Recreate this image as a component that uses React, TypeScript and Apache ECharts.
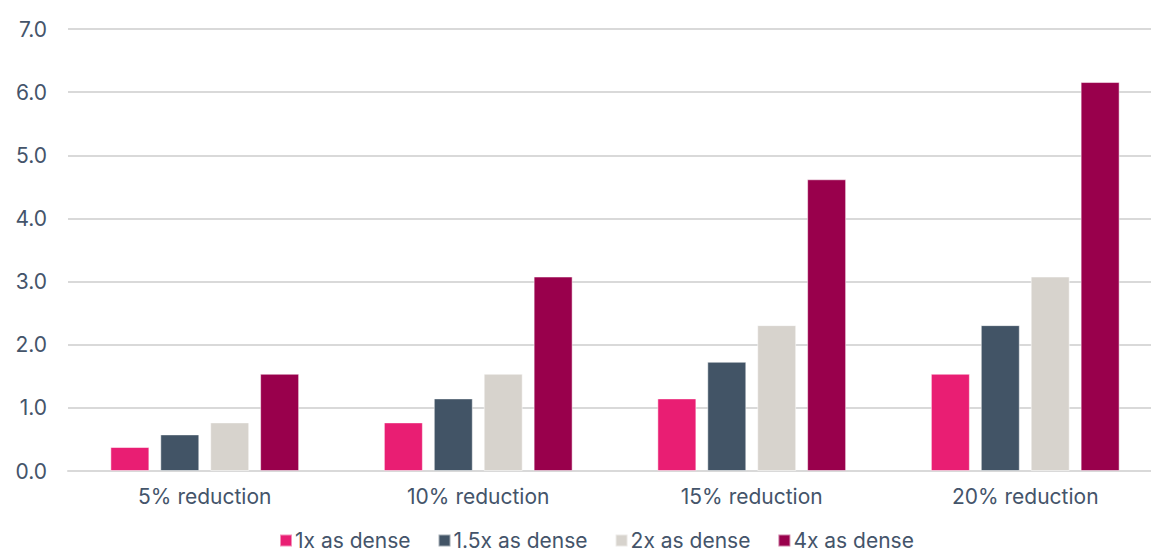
import React, { useEffect, useRef } from "react";
import * as echarts from "echarts";

const categories = ["5% reduction", "10% reduction", "15% reduction", "20% reduction"];
const seriesNames = ["1x as dense", "1.5x as dense", "2x as dense", "4x as dense"];
const dense1x = [0.38, 0.77, 1.15, 1.54];
const dense15x = [0.58, 1.15, 1.73, 2.31];
const dense2x = [0.77, 1.54, 2.31, 3.08];
const dense4x = [1.54, 3.08, 4.62, 6.16];
const colors = ["#E91E73", "#425466", "#D7D3CD", "#99004C"];
const yTicks = [0, 1, 2, 3, 4, 5, 6, 7];

export default function App() {
  const ref = useRef<HTMLDivElement>(null);
  useEffect(() => {
    if (!ref.current) return;
    const chart = echarts.init(ref.current, undefined, { renderer: "svg" });
    const font = "Inter, Roboto, sans-serif";
    const data = [dense1x, dense15x, dense2x, dense4x];
    chart.setOption({
      animation: false,
      color: colors,
      textStyle: { fontFamily: font },
      grid: { left: 68, right: 0, top: 29, bottom: 83, containLabel: false },
      legend: {
        bottom: 3,
        left: 279,
        padding: 0,
        itemWidth: 12,
        itemHeight: 12,
        itemGap: 27,
        icon: "rect",
        textStyle: {
          color: "#44546A",
          fontSize: 21,
          lineHeight: 21,
          fontFamily: font,
          padding: [0, 0, 0, -2],
        },
        data: seriesNames,
      },
      xAxis: {
        type: "category",
        data: categories,
        axisLine: { show: true, lineStyle: { color: "#D9D9D9", width: 2 } },
        axisTick: { show: false },
        axisLabel: { color: "#44546A", fontSize: 21, margin: 15, fontFamily: font },
      },
      yAxis: {
        type: "value",
        min: yTicks[0],
        max: yTicks[yTicks.length - 1],
        interval: 1,
        axisLine: { show: false },
        axisTick: { show: false },
        splitLine: { lineStyle: { color: "#D9D9D9", width: 2 } },
        axisLabel: {
          color: "#44546A",
          fontSize: 21,
          margin: 21,
          fontFamily: font,
          formatter: (v: number) => v.toFixed(1),
        },
      },
      series: seriesNames.map((name, i) => ({
        name,
        type: "bar",
        data: data[i],
        barWidth: 39,
        barGap: "28%",
        itemStyle: { color: colors[i], borderColor: "rgba(255,255,255,0.5)", borderWidth: 1 },
      })),
    });
    return () => chart.dispose();
  }, []);
  return (
    <div
      ref={ref}
      style={{ position: "fixed", left: 0, top: 0, width: 1162, height: 554, background: "#fff" }}
    />
  );
}
